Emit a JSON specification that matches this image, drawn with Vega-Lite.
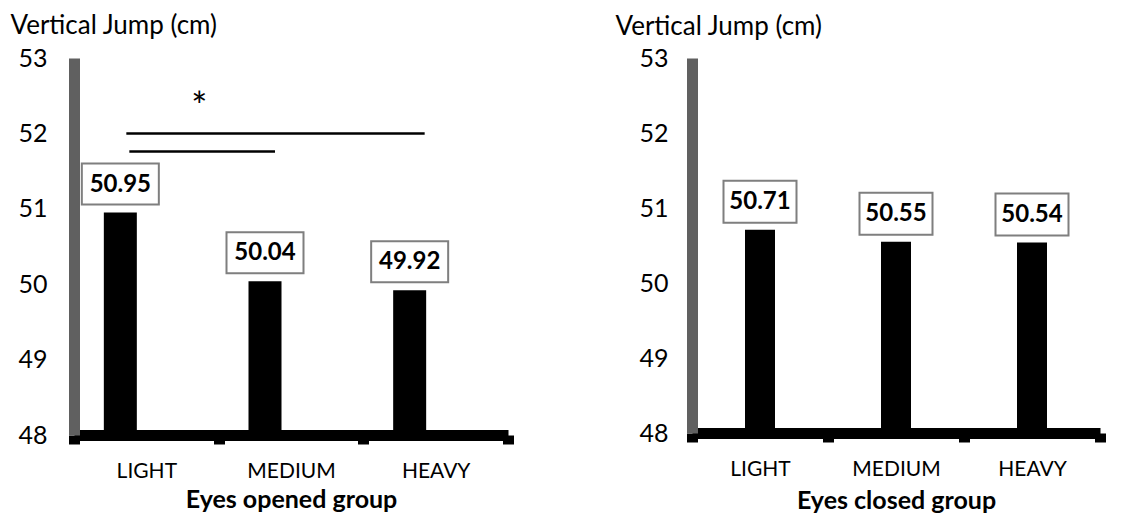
{
  "$schema": "https://vega.github.io/schema/vega-lite/v6.json",
  "padding": {"left": 10, "top": 12, "right": 5, "bottom": 5},
  "background": "white",
  "config": {
    "font": "Lato",
    "view": {"stroke": null},
    "axis": {"grid": false, "labelColor": "#000", "titleColor": "#000", "labelFont": "Lato", "titleFont": "Lato"}
  },
  "datasets": {
    "bars": [
      {"group": "open", "level": "LIGHT", "value": 50.95},
      {"group": "open", "level": "MEDIUM", "value": 50.04},
      {"group": "open", "level": "HEAVY", "value": 49.92},
      {"group": "closed", "level": "LIGHT", "value": 50.71},
      {"group": "closed", "level": "MEDIUM", "value": 50.55},
      {"group": "closed", "level": "HEAVY", "value": 50.54}
    ]
  },
  "spacing": 101,
  "resolve": {"scale": {"x": "independent", "y": "independent"}},
  "hconcat": [
    {
      "width": 434,
      "height": 377,
      "layer": [
        {
          "data": {"name": "bars"},
          "transform": [{"filter": "datum.group === 'open'"}],
          "mark": {"type": "bar", "color": "black", "width": 33, "xOffset": -26},
          "encoding": {
            "x": {
              "field": "level", "type": "nominal",
              "scale": {"domain": ["LIGHT", "MEDIUM", "HEAVY"], "paddingInner": 0, "paddingOuter": 0},
              "axis": {
                "title": "Eyes opened group", "titleFontSize": 25, "titleFontWeight": "bold",
                "titleY": 72, "titleBaseline": "alphabetic",
                "labelAngle": 0, "labelFontSize": 21, "labelBaseline": "alphabetic", "labelPadding": 33,
                "domainColor": "black", "domainWidth": 11,
                "tickColor": "black", "tickWidth": 11, "tickSize": 9, "tickBand": "extent"
              }
            },
            "y": {
              "field": "value", "type": "quantitative",
              "scale": {"domain": [48, 53], "zero": false, "nice": false},
              "axis": {
                "title": "Vertical Jump (cm)", "titleAngle": 0, "titleAlign": "left", "titleBaseline": "alphabetic",
                "titleX": -64, "titleY": -25, "titleFontSize": 26, "titleFontWeight": "normal",
                "values": [48, 49, 50, 51, 52, 53], "format": "d", "labelFontSize": 25, "labelPadding": 27,
                "ticks": false, "domainColor": "#606060", "domainWidth": 11
              }
            },
            "y2": {"datum": 48}
          }
        },
        {
          "data": {"name": "bars"},
          "transform": [{"filter": "datum.group === 'open'"}],
          "mark": {"type": "bar", "fill": "white", "stroke": "#7f7f7f", "strokeWidth": 2, "width": 77, "xOffset": -26, "yOffset": -49, "y2Offset": -8},
          "encoding": {
            "x": {"field": "level", "type": "nominal"},
            "y": {"field": "value", "type": "quantitative"},
            "y2": {"field": "value"}
          }
        },
        {
          "data": {"name": "bars"},
          "transform": [{"filter": "datum.group === 'open'"}],
          "mark": {"type": "text", "fontSize": 24, "fontWeight": "bold", "color": "black", "xOffset": -26, "yOffset": -28, "baseline": "middle"},
          "encoding": {
            "x": {"field": "level", "type": "nominal"},
            "y": {"field": "value", "type": "quantitative"},
            "text": {"field": "value", "format": ".2f"}
          }
        },
        {
          "data": {"values": [{"level": "LIGHT", "level2": "HEAVY", "value": 52.0}]},
          "mark": {"type": "rule", "color": "black", "strokeWidth": 2.5, "xOffset": -20, "x2Offset": -11},
          "encoding": {
            "x": {"field": "level", "type": "nominal"},
            "x2": {"field": "level2"},
            "y": {"field": "value", "type": "quantitative"}
          }
        },
        {
          "data": {"values": [{"level": "LIGHT", "level2": "MEDIUM", "value": 51.76}]},
          "mark": {"type": "rule", "color": "black", "strokeWidth": 2.5, "xOffset": -17, "x2Offset": -16},
          "encoding": {
            "x": {"field": "level", "type": "nominal"},
            "x2": {"field": "level2"},
            "y": {"field": "value", "type": "quantitative"}
          }
        },
        {
          "data": {"values": [{"level": "LIGHT", "value": 52.18, "t": "*"}]},
          "mark": {"type": "text", "fontSize": 38, "color": "black", "dx": 53, "baseline": "alphabetic"},
          "encoding": {
            "x": {"field": "level", "type": "nominal"},
            "y": {"field": "value", "type": "quantitative"},
            "text": {"field": "t"}
          }
        }
      ]
    },
    {
      "width": 408,
      "height": 375,
      "layer": [
        {
          "data": {"name": "bars"},
          "transform": [{"filter": "datum.group === 'closed'"}],
          "mark": {"type": "bar", "color": "black", "width": 30},
          "encoding": {
            "x": {
              "field": "level", "type": "nominal",
              "scale": {"domain": ["LIGHT", "MEDIUM", "HEAVY"], "paddingInner": 0, "paddingOuter": 0},
              "axis": {
                "title": "Eyes closed group", "titleFontSize": 25, "titleFontWeight": "bold",
                "titleY": 75, "titleBaseline": "alphabetic",
                "labelAngle": 0, "labelFontSize": 21, "labelBaseline": "alphabetic", "labelPadding": 33,
                "domainColor": "black", "domainWidth": 11,
                "tickColor": "black", "tickWidth": 11, "tickSize": 9, "tickBand": "extent"
              }
            },
            "y": {
              "field": "value", "type": "quantitative",
              "scale": {"domain": [48, 53], "zero": false, "nice": false},
              "axis": {
                "title": "Vertical Jump (cm)", "titleAngle": 0, "titleAlign": "left", "titleBaseline": "alphabetic",
                "titleX": -77, "titleY": -24, "titleFontSize": 26, "titleFontWeight": "normal",
                "values": [48, 49, 50, 51, 52, 53], "format": "d", "labelFontSize": 25, "labelPadding": 24,
                "ticks": false, "domainColor": "#606060", "domainWidth": 11
              }
            },
            "y2": {"datum": 48}
          }
        },
        {
          "data": {"name": "bars"},
          "transform": [{"filter": "datum.group === 'closed'"}],
          "mark": {"type": "bar", "fill": "white", "stroke": "#7f7f7f", "strokeWidth": 2, "width": 73, "yOffset": -49, "y2Offset": -7},
          "encoding": {
            "x": {"field": "level", "type": "nominal"},
            "y": {"field": "value", "type": "quantitative"},
            "y2": {"field": "value"}
          }
        },
        {
          "data": {"name": "bars"},
          "transform": [{"filter": "datum.group === 'closed'"}],
          "mark": {"type": "text", "fontSize": 24, "fontWeight": "bold", "color": "black", "yOffset": -28, "baseline": "middle"},
          "encoding": {
            "x": {"field": "level", "type": "nominal"},
            "y": {"field": "value", "type": "quantitative"},
            "text": {"field": "value", "format": ".2f"}
          }
        }
      ]
    }
  ]
}
